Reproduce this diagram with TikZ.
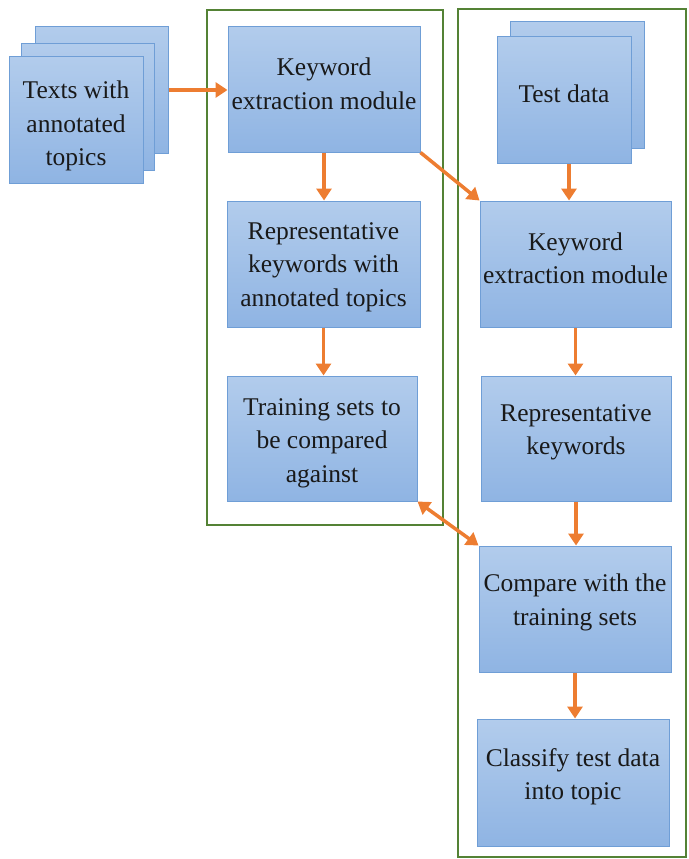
\documentclass[tikz,border=0pt]{standalone}
\usepackage{fontspec}
\setmainfont{Liberation Serif}
\usetikzlibrary{arrows.meta}
\definecolor{boxtop}{HTML}{B2CCEC}
\definecolor{boxbot}{HTML}{8FB4E3}
\definecolor{boxline}{HTML}{6F9ED6}
\definecolor{arr}{HTML}{ED7D31}
\definecolor{frame}{HTML}{548235}
\tikzset{
  box/.style={draw=boxline, line width=1pt, top color=boxtop, bottom color=boxbot},
  boxtext/.style={align=center, inner sep=0pt, text=black!90,
    font=\fontsize{25.5}{33.5}\selectfont},
  flow/.style={draw=arr, line width=3.5pt, -{Triangle[width=15pt,length=12pt]}},
  flowboth/.style={draw=arr, line width=3.5pt, {Triangle[width=15pt,length=12pt]}-{Triangle[width=15pt,length=12pt]}},
  group/.style={draw=frame, line width=2.5pt}
}
\begin{document}
\begin{tikzpicture}[x=1pt,y=-1pt]
\useasboundingbox (0,0) rectangle (688,859);
% frames
\draw[group] (207,10) rectangle (443,525);
\draw[group] (458,9) rectangle (686,857);
% left stacked documents
\node[box, minimum width=133pt, minimum height=126pt] (txt3) at (101.5,90) {};
\node[box, minimum width=133pt, minimum height=126pt] (txt2) at (87.5,107) {};
\node[box, minimum width=134pt, minimum height=126pt] (txt1) at (76,120) {};
\node[boxtext] (txt1t) at ([yshift=-6pt]txt1.center) {Texts with\\annotated\\topics};
% left column
\node[box, minimum width=192pt, minimum height=125pt] (kw1) at (324,89.5) {};
\node[boxtext] (kw1t) at ([yshift=5.5pt]kw1.center) {Keyword\\extraction module};
\node[box, minimum width=193pt, minimum height=126pt] (rep1) at (323.5,264) {};
\node[boxtext] (rep1t) at ([yshift=-3pt]rep1.center) {Representative\\keywords with\\annotated topics};
\node[box, minimum width=190pt, minimum height=125pt] (train) at (322,438.5) {};
\node[boxtext] (traint) at ([yshift=-4.5pt]train.center) {Training sets to\\be compared\\against};
% right column
\node[box, minimum width=134pt, minimum height=126pt] (td2) at (577,85) {};
\node[box, minimum width=134pt, minimum height=126pt] (td1) at (564,100) {};
\node[boxtext] (td1t) at ([yshift=6pt]td1.center) {Test data};
\node[box, minimum width=191pt, minimum height=126pt] (kw2) at (575.5,264) {};
\node[boxtext] (kw2t) at ([yshift=5.5pt]kw2.center) {Keyword\\extraction module};
\node[box, minimum width=190pt, minimum height=125pt] (rep2) at (576,438.5) {};
\node[boxtext] (rep2t) at ([yshift=6pt]rep2.center) {Representative\\keywords};
\node[box, minimum width=192pt, minimum height=126pt] (cmp) at (575,609) {};
\node[boxtext] (cmpt) at ([yshift=6.5pt]cmp.center) {Compare with the\\training sets};
\node[box, minimum width=192pt, minimum height=127pt] (cls) at (573,782.5) {};
\node[boxtext] (clst) at ([yshift=6pt]cls.center) {Classify test data\\into topic};
% arrows
\draw[flow] (txt3.east) -- (txt3.east -| kw1.west);
\draw[flow] (kw1.south) -- (kw1.south |- rep1.north);
\draw[flow] (rep1.south) -- (rep1.south |- train.north);
\draw[flow] (kw1.south east) -- (kw2.north west);
\draw[flow] ([xshift=5pt]td1.south) -- ([xshift=5pt]td1.south |- kw2.north);
\draw[flow] (kw2.south) -- (kw2.south |- rep2.north);
\draw[flow] (rep2.south) -- (rep2.south |- cmp.north);
\draw[flow] (cmp.south) -- (cmp.south |- cls.north);
\draw[flowboth] (train.south east) -- (cmp.north west);
\end{tikzpicture}
\end{document}
